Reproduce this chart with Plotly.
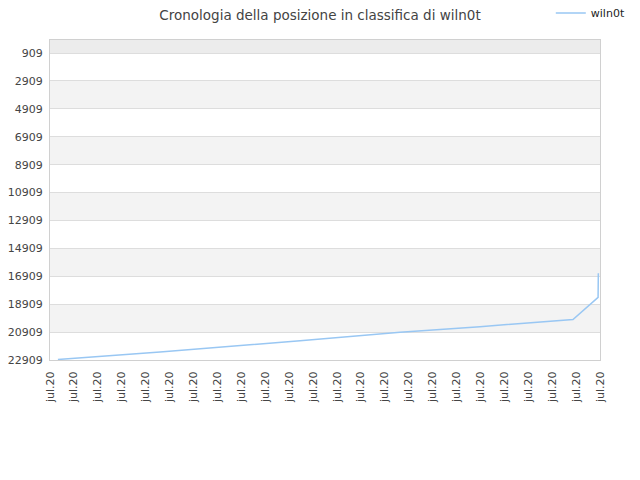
import plotly.graph_objects as go

# data
x_pos = [0.33, 4.6, 10.46, 14.64, 17.98, 21.87, 22.92, 22.93]
rank = [22873, 22336, 21526, 20923, 20522, 20006, 18416, 16696]
y_ticks = [909, 2909, 4909, 6909, 8909, 10909, 12909, 14909, 16909, 18909, 20909, 22909]
x_ticks = list(range(24))
x_labels = ["jul.20"] * 24
series_name = "wiln0t"
title = "Cronologia della posizione in classifica di wiln0t"

fig = go.Figure()
fig.add_trace(go.Scatter(x=x_pos, y=rank, mode="lines", name=series_name,
                         line=dict(color="#99c7f3", width=1.5)))

shapes = []
shapes.append(dict(type="rect", xref="paper", yref="y", x0=0, x1=1, y0=-25, y1=y_ticks[0],
                   fillcolor="#ececec", line_width=0, layer="below"))
for i in range(1, len(y_ticks) - 1, 2):
    shapes.append(dict(type="rect", xref="paper", yref="y", x0=0, x1=1,
                       y0=y_ticks[i], y1=y_ticks[i + 1],
                       fillcolor="#f3f3f3", line_width=0, layer="below"))

fig.update_layout(
    width=640, height=480,
    margin=dict(l=42, r=48, t=32, b=128, autoexpand=False),
    paper_bgcolor="white", plot_bgcolor="white",
    title=dict(text=title, x=0.4875, xanchor="center", y=0.984, yanchor="middle",
               font=dict(family="DejaVu Sans", size=13.5, color="#444")),
    font=dict(family="DejaVu Sans", size=11, color="#444"),
    showlegend=True,
    legend=dict(x=1.056, xanchor="right", y=1.084, yanchor="middle",
                font=dict(size=11, color="#222"), bgcolor="rgba(0,0,0,0)",
                itemwidth=30),
    shapes=shapes,
    xaxis=dict(range=[0, 23], tickmode="array", tickvals=x_ticks, ticktext=x_labels,
               tickangle=-90, showgrid=False, showline=True, linecolor="#d0d0d0",
               mirror=True, zeroline=False, ticks="", automargin=False,
               ticklabelstandoff=6, tickfont=dict(size=11, color="#444")),
    yaxis=dict(range=[22909, -25], tickmode="array", tickvals=y_ticks,
               ticktext=[str(v) for v in y_ticks],
               showgrid=True, gridcolor="#dddddd", showline=True, linecolor="#d0d0d0",
               mirror=True, zeroline=False, ticks="", automargin=False,
               ticklabelstandoff=4, tickfont=dict(size=11, color="#444")),
)
fig.write_html("out.html")
